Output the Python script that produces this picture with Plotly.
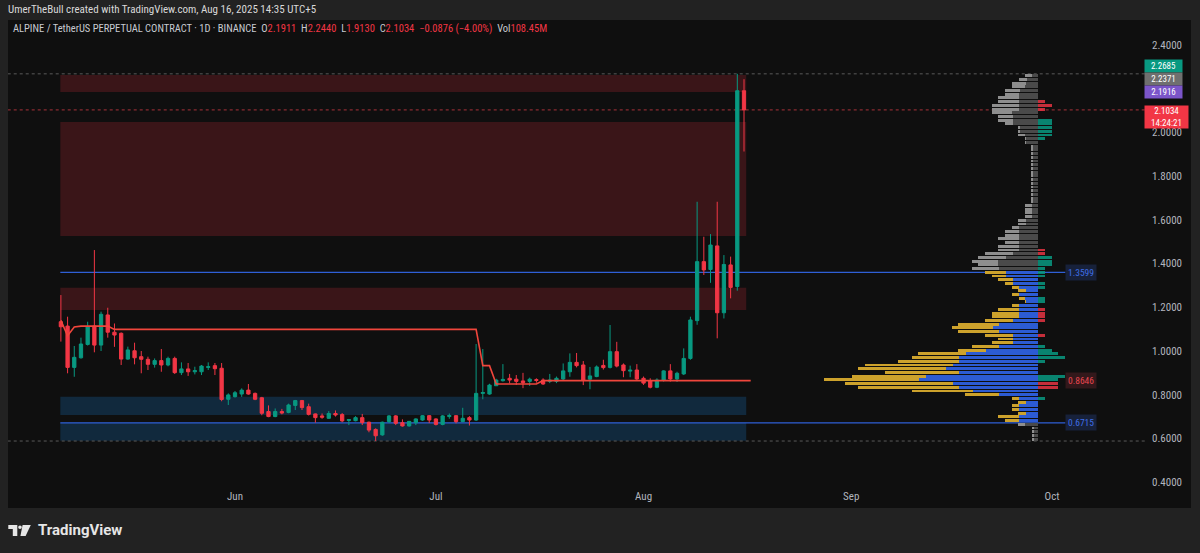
import plotly.graph_objects as go
import pandas as pd

# ---------------- data ----------------
start_date = "2025-05-06"
opens  = [1.134,1.114,0.925,0.969,1.030,1.114,1.027,1.165,1.086,1.081,
          0.963,1.001,0.974,0.962,0.939,0.956,0.936,0.966,0.901,0.918,
          0.905,0.905,0.925,0.933,0.921,0.779,0.791,0.803,0.821,0.806,
          0.786,0.723,0.700,0.723,0.719,0.751,0.773,0.745,0.712,0.703,
          0.692,0.714,0.709,0.682,0.681,0.695,0.674,0.641,0.616,0.677,
          0.703,0.672,0.657,0.672,0.684,0.704,0.689,0.664,0.700,0.704,
          0.677,0.695,0.684,0.806,0.803,0.841,0.864,0.875,0.871,0.863,
          0.861,0.869,0.867,0.861,0.861,0.872,0.905,0.948,0.936,0.871,
          0.883,0.934,0.925,0.997,0.936,0.908,0.913,0.875,0.863,0.834,
          0.867,0.909,0.872,0.895,0.966,1.139,1.409,1.373,1.481,1.175,
          1.394,1.295,2.1911]
highs  = [1.256,1.157,1.023,1.061,1.134,1.462,1.180,1.198,1.126,1.085,
          1.020,1.038,1.000,0.974,0.966,1.009,0.974,0.974,0.948,0.945,
          0.928,0.936,0.948,0.945,0.945,0.806,0.817,0.829,0.849,0.810,
          0.790,0.751,0.737,0.735,0.759,0.776,0.776,0.759,0.714,0.714,
          0.725,0.728,0.716,0.689,0.702,0.712,0.677,0.646,0.677,0.707,
          0.707,0.687,0.680,0.692,0.707,0.707,0.692,0.707,0.714,0.707,
          0.740,0.702,1.032,1.009,0.850,0.873,0.940,0.895,0.890,0.900,
          0.878,0.875,0.875,0.895,0.883,0.943,0.989,0.991,0.954,0.927,
          0.934,0.960,1.119,1.042,0.943,0.933,0.940,0.883,0.875,0.875,
          0.912,0.940,0.905,1.012,1.157,1.683,1.523,1.535,1.683,1.439,
          1.432,2.2685,2.2440]
lows   = [1.043,0.898,0.882,0.965,1.025,0.994,1.000,1.061,1.019,0.936,
          0.960,0.939,0.898,0.913,0.924,0.905,0.930,0.895,0.890,0.886,
          0.893,0.890,0.913,0.890,0.770,0.753,0.787,0.790,0.800,0.775,
          0.706,0.697,0.697,0.710,0.715,0.730,0.730,0.705,0.672,0.690,
          0.690,0.700,0.674,0.661,0.678,0.661,0.628,0.588,0.612,0.670,
          0.661,0.654,0.654,0.661,0.680,0.670,0.659,0.660,0.690,0.669,
          0.674,0.659,0.680,0.779,0.800,0.840,0.860,0.852,0.845,0.830,
          0.840,0.855,0.845,0.853,0.853,0.867,0.882,0.925,0.844,0.825,
          0.880,0.915,0.920,0.925,0.880,0.880,0.866,0.845,0.829,0.830,
          0.860,0.860,0.858,0.890,0.960,1.120,1.348,1.312,1.058,1.149,
          1.241,1.276,1.9130]
closes = [1.111,0.925,0.971,1.032,1.111,1.027,1.168,1.086,1.073,0.963,
          1.005,0.969,0.962,0.939,0.956,0.936,0.966,0.901,0.918,0.905,
          0.910,0.931,0.928,0.919,0.778,0.799,0.809,0.821,0.803,0.779,
          0.715,0.700,0.723,0.716,0.753,0.773,0.741,0.710,0.695,0.697,
          0.714,0.707,0.680,0.686,0.695,0.672,0.638,0.612,0.674,0.703,
          0.669,0.657,0.678,0.689,0.704,0.684,0.664,0.703,0.705,0.677,
          0.692,0.684,0.806,0.810,0.844,0.867,0.870,0.867,0.861,0.855,
          0.871,0.865,0.849,0.867,0.875,0.909,0.948,0.933,0.867,0.886,
          0.927,0.924,0.997,0.931,0.910,0.912,0.872,0.853,0.834,0.867,
          0.909,0.872,0.898,0.966,1.142,1.409,1.371,1.485,1.175,1.396,
          1.291,2.1911,2.1034]

# developing point-of-control (red step line), one value per candle
poc_vals = ([1.140, 1.070, 1.110] + [1.114]*5 + [1.099]*55 + [0.933]*2
            + [0.849]*7 + [0.8646]*31)
poc_extend_date = "2025-08-17"

# zones (price bands)
zone_start = "2025-05-05 22:00"
zone_end   = "2025-08-16 08:00"
zone_low   = [2.185, 1.526, 1.188, 0.707, 0.589]
zone_high  = [2.263, 2.048, 1.290, 0.791, 0.672]
zone_kind  = ["supply", "supply", "supply", "demand", "demand"]

# value-area lines
va_levels = [1.3599, 0.6715]
va_line_end = "2025-10-03"
poc_level = 0.8646

# visible range high / low dotted lines and last price
range_high = 2.2685
range_low = 0.588
last_price = 2.1034

# price-axis labels
axis_label_vals = [2.2685, 2.2371, 2.1916]
axis_label_cols = ["#089981", "#6f6f6f", "#7b55c9"]
countdown = "14:24:21"

# volume profile (rows from top to bottom), arbitrary volume units
vp_high, vp_low = 2.2685, 0.588
vp_total = [13.3,19.3,26.7,26.7,33.3,33.3,40,40,46.7,46.7,46.7,40,40,33.3,20,20,20,13.3,13.3,
            7,7,7,7,7,7,7,7,7,7,7,7,7,7,7,7,
            13.3,13.3,13.3,13.3,20,20,26.7,33.3,33.3,40,33.3,40,40,53.3,60,66.7,60,66.7,
            53.3,46.7,40,33.3,26.7,20,26.7,19,13.3,26.7,40,46.7,46.7,53.3,80,86.7,80,53.3,40,46.7,
            66.7,80,120,126.7,140,173.3,180,153.3,186.7,214.3,193.3,180,126.7,73.3,26.7,20,26.7,
            26.7,20,40,33.3,
            20,6.7,6.7,6.7,6.7]
vp_up = [6.7,11.7,12.3,13.3,18.3,19,19,19,19,19,26.7,25.7,25.7,25.7,19,19,13.3,12.3,12.3,
         5,5,5,5,5,5,5,5,5,5,5,5,5,5,5,5,
         6.7,6.7,6.7,6.7,12.3,12.3,19,19,19,19,19,19,19,25.7,32.3,40,40,39,
         32.3,32.3,25.7,25.7,19,12.3,19,13.3,12.3,19,19,19,19,25.7,39,45.7,39,25.7,25.7,25.7,
         39,52.3,72.3,79,79,85.7,92.3,79,112.3,119,85.7,79,65.7,39,19,12.3,19,
         19,12.3,19,19,
         13.3,4,4,4,4]
vp_delta = [0,0,0,0,0,0,0,-6.7,-13.3,-6.7,0,0,13.3,13.3,13.3,13.3,13.3,6.7,0,
            0,0,0,0,0,0,0,0,0,0,0,0,0,0,0,0,
            0,0,0,0,0,0,0,0,0,0,0,0,-6.7,-6.7,13.3,13.3,13.3,6.7,
            6.7,6.7,0,6.7,6.7,0,0,6.7,6.7,0,-6.7,-6.7,-6.7,-6.7,0,0,0,-6.7,0,0,
            6.7,13.3,20,26.7,6.7,0,0,0,26.7,20,-20,-20,0,0,6.7,0,0,
            0,0,0,0,
            0,0,0,0,0]
va_first_row, va_last_row = 53, 93

# axis ticks (2.2000 is hidden behind the price labels in the original)
price_ticks = [0.4, 0.6, 0.8, 1.0, 1.2, 1.4, 1.6, 1.8, 2.0, 2.4]
month_ticks = ["2025-06-01", "2025-07-01", "2025-08-01", "2025-09-01", "2025-10-01"]
month_labels = ["Jun", "Jul", "Aug", "Sep", "Oct"]

# ---------------- styling ----------------
GREEN = "#089981"
RED = "#f23645"
BG = "#0f0f0f"
OUTER = "#222222"
TXT = "#b2b5be"
FONT = "Liberation Sans Narrow, Roboto Condensed, DejaVu Sans Condensed, Roboto, sans-serif"

W, H = 1200, 553
ML, MR, MT, MB = 8, 55, 22, 65
PW, PH = W - ML - MR, H - MT - MB
PX_PER_PRICE = 218.5

def px(xp):
    return (xp - ML) / PW

def py(yp):
    return (H - MB - yp) / PH

dates = pd.date_range(start_date, periods=len(opens), freq="D")

fig = go.Figure()

fig.add_trace(go.Candlestick(
    x=dates, open=opens, high=highs, low=lows, close=closes,
    increasing=dict(line=dict(color=GREEN, width=1), fillcolor=GREEN),
    decreasing=dict(line=dict(color=RED, width=1), fillcolor=RED),
    whiskerwidth=0, hoverinfo="skip", showlegend=False))

poc_x = list(dates) + [pd.Timestamp(poc_extend_date)]
poc_y = poc_vals + [poc_vals[-1]]
fig.add_trace(go.Scatter(x=poc_x, y=poc_y, mode="lines",
                         line=dict(color="#f0463c", width=1.6),
                         hoverinfo="skip", showlegend=False))

# volume profile
n_rows = len(vp_total)
row_h = (vp_high - vp_low) / n_rows
row_c = [vp_high - (i + 0.5) * row_h for i in range(n_rows)]
vp_down = [t - u for t, u in zip(vp_total, vp_up)]
in_va = [va_first_row <= i <= va_last_row for i in range(n_rows)]
inner_col = ["#2c5bd3" if v else "#4a4a4a" for v in in_va]
outer_col = ["#cda22c" if v else "#8e8e8e" for v in in_va]

fig.add_trace(go.Bar(y=row_c, x=vp_up, base=[-u for u in vp_up], orientation="h",
                     width=row_h * 0.78, marker=dict(color=inner_col, line=dict(width=0)),
                     xaxis="x2", yaxis="y", hoverinfo="skip", showlegend=False))
fig.add_trace(go.Bar(y=row_c, x=vp_down, base=[-t for t in vp_total], orientation="h",
                     width=row_h * 0.78, marker=dict(color=outer_col, line=dict(width=0)),
                     xaxis="x2", yaxis="y", hoverinfo="skip", showlegend=False))
fig.add_trace(go.Bar(y=row_c, x=[abs(d) for d in vp_delta], base=[0]*n_rows, orientation="h",
                     width=row_h * 0.78,
                     marker=dict(color=["rgba(8,153,129,0.85)" if d >= 0 else "rgba(242,54,69,0.8)" for d in vp_delta],
                                 line=dict(width=0)),
                     xaxis="x2", yaxis="y", hoverinfo="skip", showlegend=False))

shapes = []
# panel background
shapes.append(dict(type="rect", xref="paper", yref="paper", x0=px(8), x1=px(1191),
                   y0=py(508), y1=py(20), fillcolor=BG, line=dict(width=0), layer="below"))
for lo, hi, kind in zip(zone_low, zone_high, zone_kind):
    shapes.append(dict(type="rect", xref="x", yref="y", x0=zone_start, x1=zone_end,
                       y0=lo, y1=hi, line=dict(width=0), layer="below",
                       fillcolor="#3a1518" if kind == "supply" else "#11293d"))
for lv in va_levels:
    shapes.append(dict(type="line", xref="x", yref="y", x0=zone_start, x1=va_line_end,
                       y0=lv, y1=lv, line=dict(color="#2f5fd6", width=1.2), layer="below"))
for lv, col in [(range_high, "#5a5a5a"), (range_low, "#5a5a5a"), (last_price, "#a8323a")]:
    shapes.append(dict(type="line", xref="x", yref="y", x0="2025-04-20", x1="2025-10-25",
                       y0=lv, y1=lv, line=dict(color=col, width=1, dash="dot"), layer="below"))
# TradingView logo glyph
shapes.append(dict(type="path", xref="paper", yref="paper",
                   path=f"M{px(8.3)},{py(525)} L{px(17.3)},{py(525)} L{px(17.3)},{py(536)} L{px(12.8)},{py(536)} L{px(12.8)},{py(529)} L{px(8.3)},{py(529)} Z",
                   fillcolor="#e6e6e6", line=dict(width=0)))
shapes.append(dict(type="circle", xref="paper", yref="paper",
                   x0=px(18.2), x1=px(21.8), y0=py(529.1), y1=py(525.5),
                   fillcolor="#e6e6e6", line=dict(width=0)))
shapes.append(dict(type="path", xref="paper", yref="paper",
                   path=f"M{px(22.6)},{py(525)} L{px(30.8)},{py(525)} L{px(25.6)},{py(536)} L{px(20.4)},{py(536)} Z",
                   fillcolor="#e6e6e6", line=dict(width=0)))

ann = []
ann.append(dict(xref="paper", yref="paper", x=px(6), y=py(10), xanchor="left", yanchor="middle",
                text="UmerTheBull created with TradingView.com, Aug 16, 2025 14:35 UTC+5",
                showarrow=False, font=dict(family=FONT, size=11, color="#d9d9d9")))
r = lambda s: f"<span style='color:{RED}'>{s}</span>"
ann.append(dict(xref="paper", yref="paper", x=px(11), y=py(29), xanchor="left", yanchor="middle",
                text=("ALPINE / TetherUS PERPETUAL CONTRACT · 1D · BINANCE  "
                      f"O{r('2.1911')}  H{r('2.2440')}  L{r('1.9130')}  C{r('2.1034')}  "
                      f"{r('−0.0876 (−4.00%)')}  Vol{r('108.45M')}"),
                showarrow=False, font=dict(family=FONT, size=10.5, color="#c8cbd2")))
ann.append(dict(xref="paper", yref="paper", x=px(36), y=py(530), xanchor="left", yanchor="middle",
                text="<b>TradingView</b>", showarrow=False,
                font=dict(family="Roboto, Inter, sans-serif", size=15, color="#e6e6e6")))
# in-pane level labels
for lv, tc, bc in [(va_levels[0], "#3f6ee6", "#17213a"), (poc_level, "#e8464f", "#33181b"),
                   (va_levels[1], "#3f6ee6", "#17213a")]:
    ann.append(dict(xref="x", yref="y", x=va_line_end, y=lv, xanchor="left", yanchor="middle",
                    text=f"{lv:.4f}", showarrow=False, bgcolor=bc, borderpad=2,
                    font=dict(family=FONT, size=9.5, color=tc)))
# price-axis labels, stacked so they do not collide (target centres in px)
label_centres = [66.3, 78.9, 91.5]
for lv, col, yc in zip(axis_label_vals, axis_label_cols, label_centres):
    y_true = 351 - (lv - 1.0) * PX_PER_PRICE
    ann.append(dict(xref="paper", yref="y", x=px(1144), y=lv, xanchor="left", yanchor="middle",
                    yshift=y_true - yc, text=f"{lv:.4f}", showarrow=False, bgcolor=col,
                    borderpad=0, width=37, height=12, align="center", valign="middle",
                    font=dict(family=FONT, size=9, color="#ffffff")))
ann.append(dict(xref="paper", yref="y", x=px(1144), y=last_price, xanchor="left", yanchor="top",
                yshift=5, text=f"{last_price:.4f}<br>{countdown}", showarrow=False, bgcolor=RED,
                borderpad=0, width=43, height=22, align="center", valign="middle",
                font=dict(family=FONT, size=9, color="#ffffff")))

fig.update_layout(
    width=W, height=H, margin=dict(l=ML, r=MR, t=MT, b=MB),
    paper_bgcolor=OUTER, plot_bgcolor=BG, barmode="overlay", bargap=0,
    showlegend=False, shapes=shapes, annotations=ann, dragmode=False,
    xaxis=dict(type="date", range=["2025-04-28 02:30", "2025-10-14 21:00"],
               tickvals=month_ticks, ticktext=month_labels, showgrid=False, zeroline=False,
               showline=False, ticks="", tickfont=dict(family=FONT, size=11, color=TXT),
               rangeslider=dict(visible=False), fixedrange=True),
    xaxis2=dict(overlaying="x", range=[-(1038.3 - ML), (W - MR) - 1038.3], visible=False,
                fixedrange=True),
    yaxis=dict(side="right", range=[1 - (H - MB - 351) / PX_PER_PRICE, 1 + (351 - MT) / PX_PER_PRICE],
               tickvals=price_ticks, ticktext=[f"{v:.4f}" for v in price_ticks],
               showgrid=False, zeroline=False, showline=False, ticks="",
               ticklabelstandoff=6, tickfont=dict(family=FONT, size=11, color=TXT),
               fixedrange=True),
)

fig.write_html("out.html", config={"displayModeBar": False},
               post_script="document.body.style.margin='0';document.body.style.overflow='hidden';")
